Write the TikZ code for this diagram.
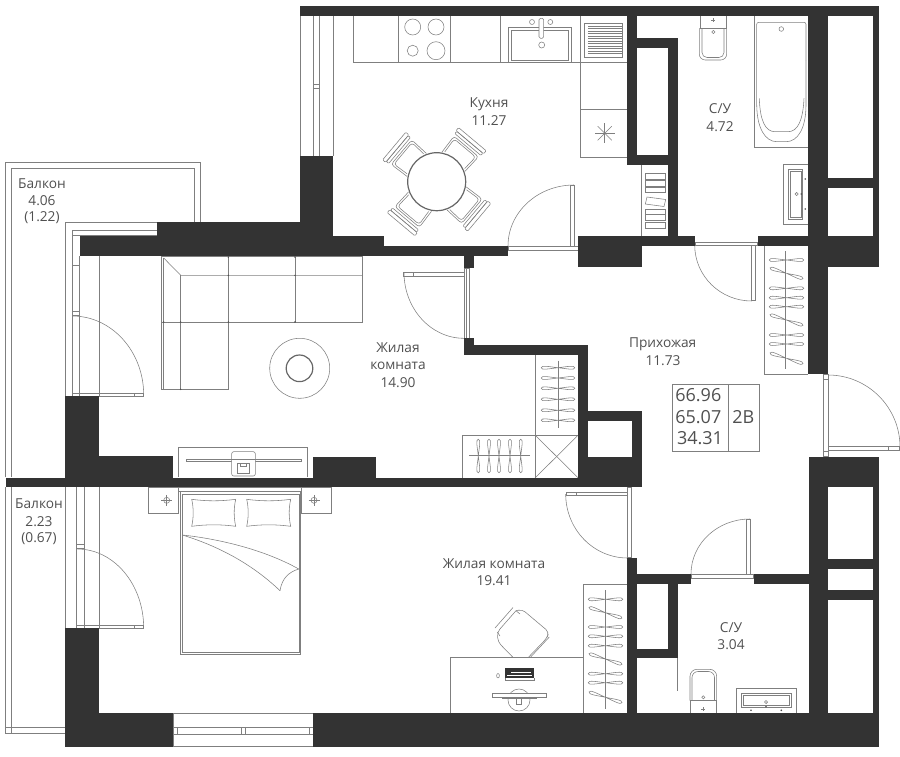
\documentclass[tikz,border=0pt]{standalone}
\usepackage{fontspec}
\setmainfont{Open Sans}
\usepackage{tikz}
\definecolor{wallcol}{HTML}{333333}
\definecolor{linecol}{HTML}{7F7F7F}
\definecolor{textcol}{HTML}{505050}
\tikzset{
    fine/.style={draw=linecol, line width=0.55pt},
    heavy/.style={draw=linecol!80!black, line width=1.2pt},
    label/.style={text=textcol, font=\fontsize{13.7}{16}\selectfont, inner sep=0pt},
    biglabel/.style={text=textcol, font=\fontsize{18}{20}\selectfont, inner sep=0pt}
}
\def\Wall from (#1, #2) to (#3, #4);{
    \fill[wallcol] (#1, #2) rectangle (#3, #4);
}
\def\Hanger at (#1, #2) tilt (#3) half (#4);{
    \begin{scope}[shift={(#1, #2)}, rotate=#3]
        \draw[fine] (0, 0) .. controls ({-0.5*#4}, -0.9) and (-#4, -2.8) .. (-#4, 0) .. controls (-#4, 2.8) and ({-0.5*#4}, 0.9) .. (0, 0);
        \draw[fine] (0, 0) .. controls ({0.5*#4}, -0.9) and (#4, -2.8) .. (#4, 0) .. controls (#4, 2.8) and ({0.5*#4}, 0.9) .. (0, 0);
    \end{scope}
}
\def\Door centre (#1, #2) radii (#3, #4) from #5 to #6;{
    \draw[fine] ({#1 + #3*cos(#5)}, {#2 + #4*sin(#5)}) arc[start angle=#5, end angle=#6, x radius=#3pt, y radius=#4pt];
}
\def\Chair at (#1, #2) tilt (#3);{
    \begin{scope}[shift={(#1, #2)}, rotate=#3]
        \draw[fine, rounded corners=3pt] (26, -15) -- (46, -16) -- (46, 16) -- (26, 15);
        \draw[fine, rounded corners=3pt] (28, -13) -- (44, -14) -- (44, 14) -- (28, 13);
        \draw[fine, rounded corners=1pt] (48.5, -17) rectangle (51.5, 17);
        \draw[fine, rounded corners=1pt] (51.5, -18) rectangle (55.5, 18);
    \end{scope}
}
\def\Pillow at (#1, #2);{
    \begin{scope}[shift={(#1, #2)}]
        \draw[fine] (0, 0) .. controls (15, 2) and (29, 2) .. (44, 0) .. controls (42, 9) and (42, 18) .. (44, 27) .. controls (29, 25) and (15, 25) .. (0, 27) .. controls (2, 18) and (2, 9) .. (0, 0) -- cycle;
    \end{scope}
}
\def\Cross at (#1, #2) size (#3);{
    \draw[fine] (#1 - #3, #2) -- (#1 + #3, #2);
    \draw[fine] (#1, #2 - #3) -- (#1, #2 + #3);
}

\begin{document}
\begin{tikzpicture}[x=1pt, y=1pt, yscale=-1]
    \useasboundingbox (0, 0) rectangle (900, 756);

    % balconies
    \draw[fine] (5.7, 477) -- (5.7, 162) -- (200, 162) -- (200, 222);
    \draw[fine] (11.7, 477) -- (11.7, 168.3) -- (194.3, 168.3) -- (194.3, 222);
    \draw[fine] (5.7, 487) -- (5.7, 733.3) -- (65.3, 733.3);
    \draw[fine] (11.7, 487) -- (11.7, 733.3);
    \draw[fine] (5.7, 727.3) -- (65.3, 727.3);

    % windows
    \draw[fine] (300, 6) -- (300, 156);
    \draw[fine] (313.3, 16) -- (313.3, 156);
    \draw[fine] (319.7, 16) -- (319.7, 156);
    \draw[fine] (333, 16) -- (333, 156);
    \draw[fine] (313.3, 84) rectangle (319.7, 88);
    \draw[fine] (65.3, 396) -- (65.3, 222) -- (157, 222);
    \draw[fine] (72.3, 396) -- (72.3, 230) -- (157, 230);
    \draw[fine] (79.3, 256) -- (79.3, 396);
    \draw[fine] (99.3, 256) -- (99.3, 396);
    \draw[fine] (72.3, 235.7) -- (157, 235.7);
    \draw[fine] (72.3, 265) -- (79.3, 265);
    \draw[fine] (72.3, 311.7) rectangle (79.3, 315.7);
    \draw[fine] (65.3, 487) -- (65.3, 628);
    \draw[fine] (76.3, 487) -- (76.3, 628);
    \draw[fine] (84, 487) -- (84, 628);
    \draw[fine] (99.3, 487) -- (99.3, 628);
    \draw[fine] (76.3, 544.5) rectangle (84, 548.7);
    \draw[fine] (173.3, 713.3) rectangle (313.3, 746.7);
    \draw[fine] (173.3, 727.3) rectangle (313.3, 734);
    \draw[fine] (177, 727.3) -- (177, 734);
    \draw[fine] (241.3, 727.3) rectangle (245.3, 734);
    \draw[fine] (309.3, 727.3) -- (309.3, 734);

    % doors
    \Door centre (574, 246) radii (66, 61) from 180 to 270;
    \draw[fine] (570, 185) rectangle (574, 246);
    \draw[fine] (508.3, 246.7) rectangle (578.3, 250);
    \Door centre (751.7, 245) radii (57, 56) from 180 to 90;
    \draw[fine] (751.7, 245) rectangle (755, 300.7);
    \draw[fine] (695, 242.3) rectangle (757.7, 245.7);
    \Door centre (72.3, 395) radii (71.4, 79) from 0 to -90;
    \draw[fine] (72.3, 393.7) rectangle (143.7, 396);
    \draw[fine] (134.7, 393.7) -- (134.7, 396);
    \Door centre (464, 272.3) radii (60, 66) from 180 to 90;
    \draw[fine] (403.7, 272.3) rectangle (464.3, 276);
    \draw[fine] (413.5, 272.3) -- (413.5, 276);
    \draw[fine] (464.3, 268) rectangle (466.7, 338);
    \draw[fine] (466.7, 268) rectangle (469, 338);
    \Door centre (828, 447) radii (72, 72) from 0 to -90;
    \draw[fine] (828, 446.7) rectangle (899.7, 450.7);
    \draw[fine] (888, 446.7) -- (888, 450.7);
    \draw[fine] (823.3, 374.3) rectangle (828.3, 456.7);
    \draw[fine] (823.3, 379) -- (828.3, 379);
    \draw[fine] (823.3, 451) -- (828.3, 451);
    \Door centre (77.3, 628) radii (66.4, 79) from 0 to -90;
    \draw[fine] (76.3, 625.7) rectangle (143.7, 628.3);
    \draw[fine] (134.7, 625.7) -- (134.7, 628.3);
    \Door centre (627.7, 494) radii (62, 64) from 180 to 90;
    \draw[fine] (566, 492.3) rectangle (627.3, 495.7);
    \draw[fine] (576, 492.3) -- (576, 495.7);
    \draw[fine] (627.3, 487) rectangle (631.7, 557.7);
    \Door centre (750, 574) radii (59, 55) from 180 to 270;
    \draw[fine] (746.7, 519) rectangle (750.3, 574);
    \draw[fine] (691, 574.3) rectangle (753.7, 578.3);

    % kitchen
    \draw[fine] (353.3, 16) -- (353.3, 62.3) -- (627.3, 62.3);
    \foreach \xk in {398.3, 450.3, 500.3, 580.3} {
        \draw[fine] (\xk, 16) -- (\xk, 62.3);
    }
    \foreach \xk/\yk/\rk in {412.7/27/8, 436/27/8, 412.7/50.7/5.5, 436/50.7/9} {
        \draw[fine] (\xk, \yk) circle (\rk);
    }
    \draw[fine] (508.7, 27.3) rectangle (571.7, 62.3);
    \draw[fine] (511.7, 30) rectangle (568.7, 60);
    \draw[fill=white, fine, rounded corners=1.5pt] (539, 18.3) rectangle (543.7, 38.3);
    \draw[fine] (532, 22) circle (2.5);
    \draw[fine] (550.3, 22) circle (2.5);
    \draw[fine] (541.7, 45) circle (3);
    \draw[fine] (584.5, 23.3) rectangle (622.3, 57.3);
    \foreach \yk in {26, 28.5, ..., 55} {
        \draw[fine] (588.3, \yk) -- (622.3, \yk);
    }
    \draw[fine] (580.3, 62.3) -- (580.3, 157.3) -- (627.3, 157.3);
    \draw[fine] (580.3, 109.3) -- (627.3, 109.3);
    \foreach \ang in {0, 45, ..., 315} {
        \draw[fine] (604.7, 133.3) -- ++(\ang:10);
    }
    \Chair at (436.7, 181.7) tilt (-50);
    \Chair at (436.7, 181.7) tilt (40);
    \Chair at (436.7, 181.7) tilt (130);
    \Chair at (436.7, 181.7) tilt (220);
    \draw[heavy, fill=white] (436.7, 181.7) circle (29);

    % small wardrobe
    \draw[fine] (641.7, 165) -- (641.7, 236);
    \foreach \ya/\yb in {173.3/179.3, 180.7/186, 187.3/192.7, 209.3/214.3, 214.3/220.7, 222.7/228.3} {
        \draw[fine] (645.3, \ya) rectangle (665.7, \yb);
    }
    \draw[fine] (647, 197) -- (665.7, 199.5) -- (664, 206.5) -- (645.3, 204) -- cycle;

    % bathroom
    \draw[fine, rounded corners=6pt] (699.3, 28) -- (699.3, 60) -- (726.7, 60) -- (726.7, 28);
    \draw[fine, rounded corners=5pt] (702, 28) -- (702, 57.5) -- (724, 57.5) -- (724, 28);
    \draw[fine] (700, 16) -- (700, 28) -- (726.7, 28) -- (726.7, 16);
    \Cross at (713.3, 20) size (2);
    \draw[fine] (713.3, 32) circle (1.6);
    \draw[fine] (754.3, 16) -- (754.3, 147.3) -- (808.3, 147.3);
    \draw[fine, rounded corners=2pt] (756.7, 60) -- (756.7, 22.3) -- (806, 22.3) -- (806, 60);
    \draw[fine] (756.7, 60) -- (756.7, 105) .. controls (757, 128) and (765, 141.7) .. (777, 141.7) -- (786, 141.7) .. controls (798, 141.7) and (806, 128) .. (806, 105) -- (806, 60);
    \draw[fine] (759.3, 98.3) .. controls (760, 120) and (765, 131.7) .. (775, 131.7) -- (788, 131.7) .. controls (798, 131.7) and (803, 120) .. (804, 98.3);
    \draw[fine] (781.3, 29) circle (2.3);
    \draw[fine] (808.3, 164) -- (783.3, 164) -- (783.3, 224) -- (808.3, 224);
    \draw[fine] (788.3, 169.3) rectangle (802.7, 219.3);
    \draw[fine] (790, 171) rectangle (801, 217.6);
    \draw[fine] (796.7, 194) circle (1.6);
    \foreach \xk/\yk in {801.3/194, 805.3/179, 805.3/209} {
        \fill[linecol!60!black] (\xk, \yk) circle (0.9);
    }

    % hall wardrobe
    \draw[fine] (764.3, 245.7) -- (764.3, 374.3) -- (808.3, 374.3);
    \draw[fine] (785.7, 251) -- (785.7, 369.3);
    \foreach \yk/\tk in {260/0, 273.3/18, 288.3/0, 297.7/0, 306.7/0, 320/18, 335/0, 344/0, 358.3/18} {
        \Hanger at (786.5, \yk) tilt (\tk) half (17.3);
    }

    % info table
    \draw[fine] (672, 384.3) rectangle (759.3, 451.3);
    \draw[fine] (728.3, 384.3) -- (728.3, 451.3);

    % living room
    \draw[fine] (161.3, 389.3) -- (161.3, 256.7) -- (362.3, 256.7) -- (362.3, 322) -- (228.3, 322);
    \draw[fine] (163.7, 258) -- (163.7, 389.3);
    \draw[fine] (161.3, 389.3) -- (228.3, 389.3) -- (228.3, 256.7);
    \draw[fine] (163.7, 258) -- (180.7, 275.3) -- (362.3, 275.3);
    \draw[fine] (180.7, 275.3) -- (180.7, 389.3);
    \draw[fine] (161.3, 322) -- (228.3, 322);
    \draw[fine] (295, 256.7) -- (295, 322);
    \foreach \xk/\yk in {228.3/257, 295/257, 228.3/275.3, 295/275.3, 163.7/322, 180.7/322, 228.3/322, 295/322, 180.7/389.3} {
        \fill[linecol!60!black] (\xk, \yk) circle (0.8);
    }
    \draw[fine] (299.7, 368.3) circle (30);
    \draw[heavy] (299.5, 368.3) circle (13.3);
    \draw[fine] (178.7, 477) -- (178.7, 447) -- (307.3, 447) -- (307.3, 477);
    \draw[fine] (186, 459.3) rectangle (301, 461.7);
    \draw[fine] (202.5, 461.7) -- (285, 461.7);
    \draw[fine, fill=white, rounded corners=2pt] (231.7, 451.7) rectangle (255.3, 476);
    \draw[fine] (186, 459.3) -- (301, 459.3);
    \draw[fine] (237.3, 463.3) rectangle (249.3, 473.3);
    \draw[fine] (240, 463.3) rectangle (246.7, 466.5);

    % living room wardrobes
    \draw[fine] (535, 355) -- (535, 478);
    \draw[fine] (462.7, 435) -- (578.3, 435);
    \draw[fine] (462.7, 435) -- (462.7, 478);
    \draw[fine] (535, 435) -- (578.3, 478);
    \draw[fine] (578.3, 435) -- (535, 478);
    \draw[fine] (558.3, 360.7) -- (558.3, 428.3);
    \foreach \yk in {367.7, 378, 388.3, 399.3, 410.3, 420.3} {
        \Hanger at (558, \yk) tilt (0) half (16.8);
    }
    \draw[fine] (469, 455) -- (530, 455);
    \foreach \xk in {478.3, 489, 499, 510, 520.7} {
        \Hanger at (\xk, 456) tilt (90) half (16.8);
    }

    % bedroom
    \draw[fine] (180.3, 491.7) rectangle (300.7, 654.3);
    \draw[fine] (182.3, 494) rectangle (299, 652.3);
    \draw[fine] (178.7, 487) rectangle (301.7, 491.7);
    \draw[fine] (148, 487.3) rectangle (178.7, 513.3);
    \draw[fine] (301.7, 487.3) rectangle (331, 513.3);
    \Cross at (166.7, 500.3) size (5.5);
    \draw[fine] (166.7, 500.3) circle (3);
    \Cross at (314, 500.3) size (5.5);
    \draw[fine] (314, 500.3) circle (3);
    \Pillow at (191.7, 499.3);
    \Pillow at (246.7, 499.3);
    \draw[fine] (182.3, 535) .. controls (220, 539) and (265, 550) .. (298.7, 569);
    \draw[fine] (182.3, 535) .. controls (215, 545) and (250, 562) .. (280, 590.7);
    \draw[fine] (280, 590.7) .. controls (282, 578) and (289, 572) .. (298.7, 569);

    % desk and bedroom wardrobe
    \draw[fine] (583.3, 713.3) -- (583.3, 584.3) -- (627.3, 584.3);
    \draw[fine] (450.3, 713.3) -- (450.3, 657.7) -- (583.3, 657.7);
    \draw[fine] (605, 590) -- (605, 709);
    \foreach \yk/\tk in {599.3/0, 612.7/18, 627/0, 636.3/0, 645.7/0, 659/18, 673.7/0, 682.7/0, 697.3/18} {
        \Hanger at (605.5, \yk) tilt (\tk) half (17.3);
    }
    \draw[fine, rounded corners=4pt] (516, 610.7) -- (522, 609.3) -- (549, 632) -- (547, 638) -- (528, 657.7);
    \draw[fine, rounded corners=4pt] (516, 610.7) -- (497.3, 632) -- (498, 642) -- (513.3, 657.7);
    \draw[fine] (516, 610.7) -- (520, 614);
    \draw[fine] (513, 607.5) -- (495, 628);
    \draw[fine] (549.3, 637) -- (530, 657.7);
    \draw[fine] (497.3, 632) -- (500, 636);
    \fill[wallcol] (505, 667.7) rectangle (534.3, 678);
    \draw[fine] (505, 678) -- (505, 680) -- (534.3, 680) -- (534.3, 678);
    \draw[white, line width=0.7pt] (511, 672) -- (531, 672);
    \draw[white, line width=0.7pt] (507, 675.5) -- (532, 675.5);
    \draw[fine] (498, 675.7) ellipse (1.4 and 2.2);
    \draw[fine] (519, 700) circle (11);
    \draw[fine, fill=white] (492.3, 693.3) rectangle (546.7, 697.5);
    \draw[fine] (502, 697.5) -- (502, 698.3) -- (536, 698.3) -- (536, 697.5);
    \draw[fine] (516.5, 698.3) rectangle (521.7, 704);

    % small bathroom
    \draw[fine, rounded corners=7pt] (690, 700.7) -- (690, 669.3) -- (716.7, 669.3) -- (716.7, 700.7);
    \draw[fine, rounded corners=6pt] (692, 700.7) -- (692, 671.5) -- (714.5, 671.5) -- (714.5, 700.7);
    \draw[fine] (690, 713.3) -- (690, 700.7) -- (716.7, 700.7) -- (716.7, 713.3);
    \draw[fine] (703.3, 697.3) circle (1.6);
    \Cross at (703.3, 709.3) size (2);
    \draw[fine] (736.3, 713.3) -- (736.3, 688.3) -- (796.3, 688.3) -- (796.3, 713.3);
    \draw[fine] (741, 693.3) rectangle (791.7, 707.7);
    \draw[fine] (743.3, 695.7) rectangle (789.3, 705.7);
    \draw[fine] (766, 702) circle (1.6);
    \foreach \xk/\yk in {751/710.3, 766/706.7, 781.3/710.3} {
        \fill[linecol!60!black] (\xk, \yk) circle (0.9);
    }
    \draw[fine] (677.7, 658.3) -- (677.7, 690.7);

    % walls
    \Wall from (300, 6) to (879.3, 16);
    \Wall from (300, 156) to (333, 236);
    \Wall from (157, 222) to (333, 236);
    \Wall from (80, 236) to (384, 246);
    \Wall from (80, 246) to (508, 256);
    \Wall from (464.3, 256) to (474.3, 268);
    \Wall from (464.3, 338.3) to (474.3, 355);
    \Wall from (464.3, 345) to (588, 355);
    \Wall from (578.3, 345) to (588, 478);
    \Wall from (588, 410.7) to (641.7, 420.7);
    \Wall from (631.7, 410.7) to (641.7, 478);
    \Wall from (578.3, 456.7) to (641.7, 478);
    \Wall from (578.3, 236) to (641.7, 267.3);
    \Wall from (641.7, 236) to (695, 245.7);
    \Wall from (757.7, 236) to (879.3, 245.7);
    \Wall from (627.3, 16) to (637.3, 165);
    \Wall from (637.3, 38.3) to (677.7, 47.7);
    \Wall from (627.3, 155) to (677.7, 165);
    \Wall from (668.3, 38.3) to (677.7, 240);
    \Wall from (808.3, 16) to (828.3, 374.3);
    \Wall from (872.7, 6) to (879.3, 267.3);
    \Wall from (808.3, 178.3) to (879.3, 188.3);
    \Wall from (808.3, 236) to (879.3, 267.3);
    \Wall from (808.7, 456.7) to (879.3, 487.3);
    \Wall from (808.7, 487.3) to (828.3, 713.3);
    \Wall from (872.7, 487.3) to (879.3, 746.7);
    \Wall from (808.7, 559) to (879.3, 569);
    \Wall from (808.7, 590) to (879.3, 600.3);
    \Wall from (65.3, 395.7) to (99.3, 456);
    \Wall from (65.3, 456) to (173.3, 478);
    \Wall from (312.7, 456.7) to (376, 478);
    \Wall from (5.7, 477.5) to (641.7, 487.3);
    \Wall from (65.3, 628.3) to (99.3, 713.3);
    \Wall from (65.3, 713.3) to (173.3, 746.7);
    \Wall from (313.3, 713.3) to (879.3, 746.7);
    \Wall from (627.3, 557.7) to (637.3, 713.3);
    \Wall from (637.3, 574) to (691, 583.7);
    \Wall from (753.7, 574) to (808.7, 583.7);
    \Wall from (668.3, 583.7) to (677.7, 658.3);
    \Wall from (637.3, 648.7) to (677.7, 658.3);

    % labels
    \node[label] (kitchenname) at (489, 104) {Кухня};
    \node[label] (kitchenarea) at (489, 121) {11.27};
    \node[label] (bathname) at (720, 109) {С/У};
    \node[label] (batharea) at (720, 127) {4.72};
    \node[label] (balconyname) at (42, 184) {Балкон};
    \node[label] (balconyarea) at (42, 200.5) {4.06};
    \node[label] (balconycoef) at (42, 218) {(1.22)};
    \node[label] (livingname) at (398, 348) {Жилая};
    \node[label] (livingnameb) at (398, 365.5) {комната};
    \node[label] (livingarea) at (398, 382.5) {14.90};
    \node[label] (hallname) at (662.7, 344) {Прихожая};
    \node[label] (hallarea) at (663, 361) {11.73};
    \node[label] (balconybname) at (39, 504) {Балкон};
    \node[label] (balconybarea) at (39, 521.7) {2.23};
    \node[label] (balconybcoef) at (39, 539) {(0.67)};
    \node[label] (bedname) at (494, 563.5) {Жилая комната};
    \node[label] (bedarea) at (494, 581) {19.41};
    \node[label] (wcname) at (731, 627.5) {С/У};
    \node[label] (wcarea) at (731, 645) {3.04};
    \node[biglabel] (totala) at (698.3, 395.3) {66.96};
    \node[biglabel] (totalb) at (698.3, 416.7) {65.07};
    \node[biglabel] (totalc) at (700, 437.7) {34.31};
    \node[biglabel] (flattype) at (743.3, 416.7) {2В};
\end{tikzpicture}
\end{document}
